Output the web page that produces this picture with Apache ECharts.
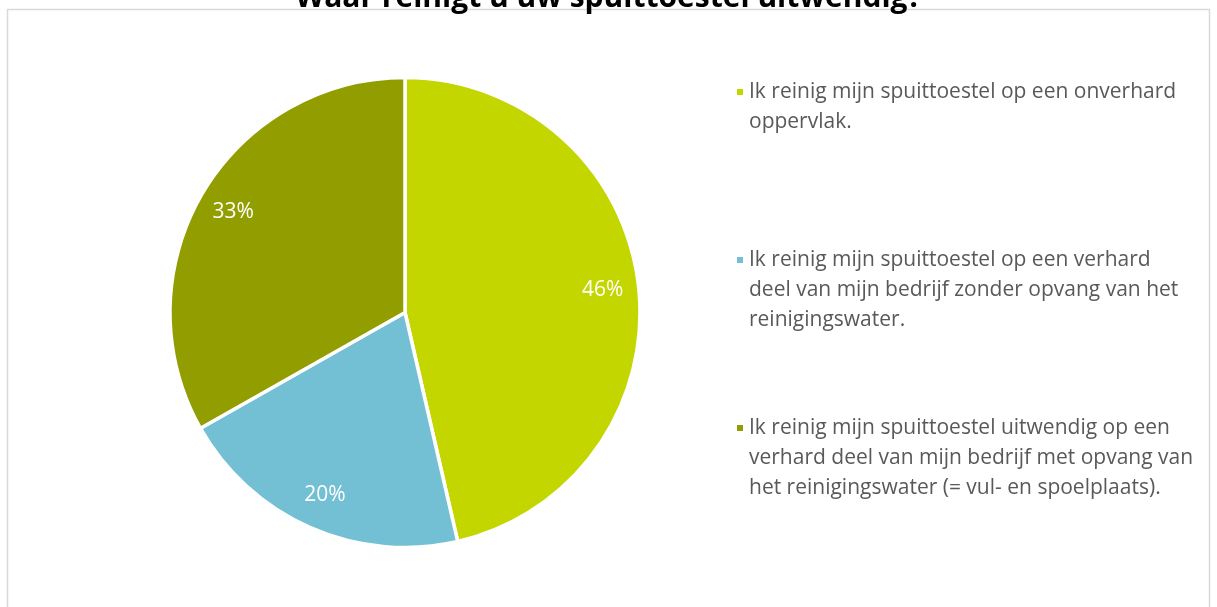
<!DOCTYPE html>
<html>
<head>
<meta charset="utf-8">
<script src="https://cdn.jsdelivr.net/npm/echarts@6/dist/echarts.min.js"></script>
<style>
html,body{margin:0;padding:0;background:#fff;}
#c{width:1217px;height:607px;}
</style>
</head>
<body>
<div id="c"></div>
<script>
const titleText = 'Waar reinigt u uw spuittoestel uitwendig?';
const categories = [
  'Ik reinig mijn spuittoestel op een onverhard oppervlak.',
  'Ik reinig mijn spuittoestel op een verhard deel van mijn bedrijf zonder opvang van het reinigingswater.',
  'Ik reinig mijn spuittoestel uitwendig op een verhard deel van mijn bedrijf met opvang van het reinigingswater (= vul- en spoelplaats).'
];
const legendLines = [
  ['Ik reinig mijn spuittoestel op een onverhard', 'oppervlak.', ''],
  ['Ik reinig mijn spuittoestel op een verhard', 'deel van mijn bedrijf zonder opvang van het', 'reinigingswater.'],
  ['Ik reinig mijn spuittoestel uitwendig op een', 'verhard deel van mijn bedrijf met opvang van', 'het reinigingswater (= vul- en spoelplaats).']
];
const values = [46.4, 20.4, 33.2];
const colors = ['#c4d600', '#73bfd3', '#929d00'];

const chart = echarts.init(document.getElementById('c'));
const data = categories.map((n, i) => ({ name: n, value: values[i], itemStyle: { color: colors[i] } }));
const cx = 405, cy = 312.5;

chart.setOption({
  backgroundColor: '#fff',
  animation: false,
  graphic: [{
    type: 'rect', silent: true, z: -1,
    shape: { x: 7.5, y: 9.5, width: 1202, height: 700 },
    style: { fill: 'none', stroke: '#d9d9d9', lineWidth: 1.5 }
  }],
  title: {
    text: titleText,
    left: 'center',
    top: -22,
    textStyle: { fontFamily: 'Open Sans', fontWeight: 'bold', fontSize: 30, color: '#000' }
  },
  legend: {
    orient: 'vertical',
    left: 735,
    top: 17,
    padding: 0,
    itemGap: 18,
    itemWidth: 8,
    itemHeight: 8,
    icon: 'rect',
    data: categories,
    formatter: name => '\n\n' + legendLines[categories.indexOf(name)].join('\n'),
    textStyle: { fontFamily: 'Open Sans', fontSize: 21, color: '#595959', lineHeight: 30 }
  },
  series: [{
    type: 'pie',
    center: [cx, cy],
    radius: [0, 235],
    startAngle: 90,
    clockwise: true,
    data: data,
    label: { show: false },
    labelLine: { show: false },
    itemStyle: { borderColor: '#fff', borderWidth: 3.5 },
    emphasis: { disabled: true }
  }, {
    type: 'pie',
    center: [cx, cy],
    radius: [0, 392],
    startAngle: 90,
    clockwise: true,
    silent: true,
    data: data.map(d => ({ name: d.name, value: d.value, itemStyle: { color: 'rgba(0,0,0,0)' } })),
    itemStyle: { borderWidth: 0 },
    label: {
      show: true, position: 'inside',
      formatter: p => Math.round(p.percent) + '%',
      fontFamily: 'Open Sans', fontSize: 21, color: '#fff'
    },
    labelLine: { show: false },
    emphasis: { disabled: true }
  }]
});
</script>
</body>
</html>
